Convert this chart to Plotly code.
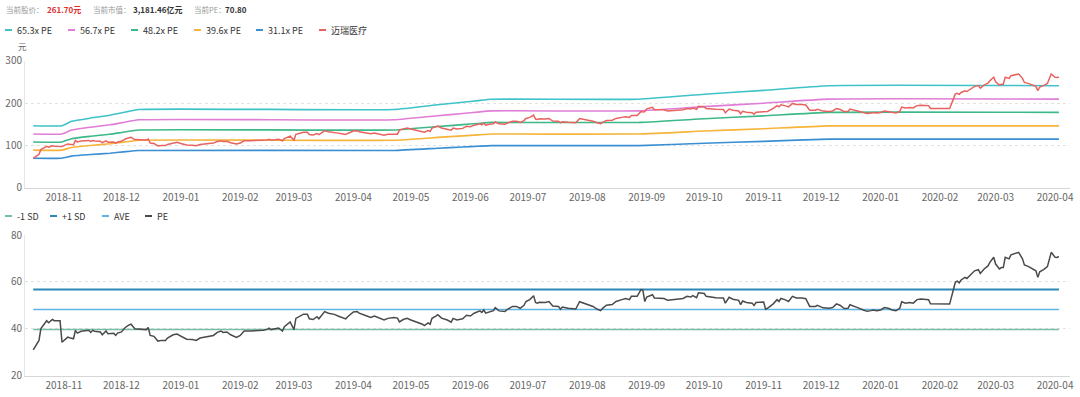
import plotly.graph_objects as go

# ---------------- data ----------------
dates = [
"2018-10-16","2018-10-19","2018-10-20","2018-10-22","2018-10-23","2018-10-24","2018-10-26","2018-10-27","2018-10-30","2018-10-31",
"2018-11-01","2018-11-03","2018-11-04","2018-11-06","2018-11-07","2018-11-08","2018-11-10","2018-11-12","2018-11-14","2018-11-15",
"2018-11-16","2018-11-17","2018-11-20","2018-11-21","2018-11-23","2018-11-24","2018-11-27","2018-11-28","2018-11-29","2018-12-01",
"2018-12-03","2018-12-05","2018-12-06","2018-12-08","2018-12-10","2018-12-12","2018-12-14","2018-12-15","2018-12-16","2018-12-18",
"2018-12-20","2018-12-22","2018-12-24","2018-12-25","2018-12-28","2018-12-30","2019-01-01","2019-01-04","2019-01-07","2019-01-09",
"2019-01-11","2019-01-13","2019-01-15","2019-01-18","2019-01-20","2019-01-22","2019-01-23","2019-01-25","2019-01-27","2019-01-28",
"2019-01-30","2019-02-01","2019-02-03","2019-02-06","2019-02-10","2019-02-13","2019-02-15","2019-02-16","2019-02-17","2019-02-19",
"2019-02-21","2019-02-23","2019-02-24","2019-02-27","2019-02-28","2019-03-01","2019-03-02","2019-03-04","2019-03-06","2019-03-08",
"2019-03-09","2019-03-11","2019-03-13","2019-03-14","2019-03-17","2019-03-19","2019-03-22","2019-03-24","2019-03-26","2019-03-28",
"2019-03-29","2019-04-01","2019-04-03","2019-04-04","2019-04-07","2019-04-10","2019-04-12","2019-04-15","2019-04-17","2019-04-19",
"2019-04-22","2019-04-24","2019-04-25","2019-04-27","2019-04-29","2019-05-01","2019-05-04","2019-05-07","2019-05-08","2019-05-10",
"2019-05-11","2019-05-12","2019-05-14","2019-05-15","2019-05-17","2019-05-20","2019-05-22","2019-05-23","2019-05-25","2019-05-28",
"2019-05-30","2019-06-01","2019-06-03","2019-06-06","2019-06-07","2019-06-08","2019-06-09","2019-06-11","2019-06-13","2019-06-14",
"2019-06-16","2019-06-19","2019-06-20","2019-06-23","2019-06-25","2019-06-27","2019-06-29","2019-06-30","2019-07-02","2019-07-04",
"2019-07-05","2019-07-06","2019-07-07","2019-07-10","2019-07-12","2019-07-14","2019-07-17","2019-07-18","2019-07-19","2019-07-22",
"2019-07-25","2019-07-26","2019-07-28","2019-07-30","2019-08-01","2019-08-02","2019-08-04","2019-08-06","2019-08-08","2019-08-09",
"2019-08-11","2019-08-14","2019-08-16","2019-08-19","2019-08-21","2019-08-23","2019-08-24","2019-08-27","2019-08-28","2019-08-29",
"2019-08-30","2019-08-31","2019-09-01","2019-09-04","2019-09-05","2019-09-07","2019-09-10","2019-09-12","2019-09-15","2019-09-18",
"2019-09-20","2019-09-22","2019-09-24","2019-09-25","2019-09-27","2019-09-28","2019-10-01","2019-10-02","2019-10-04","2019-10-07",
"2019-10-11","2019-10-12","2019-10-14","2019-10-16","2019-10-19","2019-10-20","2019-10-21","2019-10-23","2019-10-26","2019-10-27",
"2019-10-28","2019-10-30","2019-11-01","2019-11-02","2019-11-03","2019-11-06","2019-11-08","2019-11-09","2019-11-10","2019-11-12",
"2019-11-14","2019-11-16","2019-11-18","2019-11-21","2019-11-23","2019-11-25","2019-11-28","2019-11-29","2019-11-30","2019-12-02",
"2019-12-05","2019-12-07","2019-12-09","2019-12-11","2019-12-13","2019-12-15","2019-12-16","2019-12-18","2019-12-20","2019-12-23",
"2019-12-25","2019-12-27","2019-12-28","2019-12-30","2020-01-01","2020-01-03","2020-01-05","2020-01-07","2020-01-09","2020-01-11",
"2020-01-12","2020-01-14","2020-01-16","2020-01-18","2020-01-20","2020-01-22","2020-01-24","2020-01-26","2020-01-27","2020-01-30",
"2020-02-03","2020-02-06","2020-02-08","2020-02-09","2020-02-10","2020-02-11","2020-02-12","2020-02-14","2020-02-15","2020-02-16",
"2020-02-18","2020-02-19","2020-02-21","2020-02-22","2020-02-24","2020-02-26","2020-02-27","2020-02-29","2020-03-01","2020-03-03",
"2020-03-04","2020-03-05","2020-03-06","2020-03-08","2020-03-09","2020-03-12","2020-03-13","2020-03-15","2020-03-16","2020-03-18",
"2020-03-20","2020-03-22","2020-03-23","2020-03-24","2020-03-26","2020-03-28","2020-03-30","2020-03-31","2020-04-01","2020-04-02",
"2020-04-03"]

pe = [
30.9,35.0,40.0,42.2,43.4,42.5,43.9,43.4,43.4,34.2,
35.0,36.4,36.1,35.7,39.3,38.1,38.9,39.0,39.3,38.4,
39.3,38.9,38.6,37.4,39.0,37.8,38.0,37.1,38.1,38.6,
40.5,41.6,41.9,40.0,39.9,39.9,39.6,40.5,37.1,36.7,
34.7,35.0,35.0,36.0,37.4,37.7,36.8,35.5,35.4,35.0,
36.0,36.4,36.6,37.1,38.4,39.0,38.4,38.6,37.4,37.1,
36.3,37.1,39.0,39.0,39.1,39.3,39.7,40.2,39.6,39.9,
40.3,39.0,40.8,42.9,41.5,39.6,44.4,45.2,46.2,46.2,
44.2,43.9,45.1,44.2,47.3,46.6,46.1,45.4,44.8,44.2,
45.1,47.1,47.3,46.6,45.7,44.8,45.4,44.5,43.7,44.4,
44.8,44.5,42.9,43.9,44.4,43.7,42.9,41.9,41.3,42.5,
41.9,44.4,45.4,46.0,44.5,43.7,42.8,44.4,43.7,44.2,
45.7,45.4,46.6,47.6,46.9,48.0,46.6,47.3,47.7,49.0,
47.6,47.3,48.0,49.5,49.5,48.7,50.0,51.6,52.4,54.1,
51.2,50.9,51.3,51.2,51.6,49.7,49.5,48.3,49.2,48.7,
48.7,48.4,51.5,50.9,50.5,49.9,49.5,48.4,47.7,48.7,
50.0,50.3,51.6,52.4,52.9,52.4,53.8,53.8,55.5,56.7,
56.4,51.6,53.5,54.5,53.1,52.9,52.9,52.1,52.4,52.7,
52.9,53.8,53.5,54.1,53.2,55.3,55.0,53.8,53.5,53.2,
53.1,50.9,53.4,52.6,52.1,50.2,51.8,51.2,50.9,49.9,
51.2,51.3,51.4,48.3,48.7,50.6,52.4,51.6,52.9,52.4,
51.6,53.8,53.1,53.1,52.8,49.5,49.5,50.0,49.7,48.9,
48.7,49.0,50.6,49.9,48.6,48.7,50.2,49.7,49.0,48.0,
47.4,47.7,48.0,47.7,48.0,49.0,48.7,48.0,47.7,48.7,
51.5,50.9,51.2,50.9,52.4,52.7,52.7,52.4,50.6,50.5,
50.5,50.5,56.7,59.9,60.3,59.6,60.8,61.9,61.4,62.2,
64.0,64.7,65.2,63.6,65.5,66.8,68.3,70.5,67.6,65.5,
66.1,66.1,70.5,69.8,71.5,72.4,72.6,69.8,67.2,66.6,
65.5,64.7,61.9,64.3,65.2,66.5,72.6,71.3,70.5,70.4,
70.8]

price = [
69.5,78.8,90.0,95.0,97.7,95.6,98.8,97.7,97.7,97.1,
99.4,103.4,102.5,101.4,111.6,108.2,110.5,110.8,111.6,109.1,
111.6,110.5,109.6,106.2,110.8,107.4,107.9,105.4,108.2,109.6,
115.0,118.1,119.0,113.6,113.3,113.3,112.5,115.0,105.4,104.2,
98.5,99.4,99.4,102.2,106.2,107.1,104.5,100.8,100.5,99.4,
102.2,103.4,103.9,105.4,109.1,110.8,109.1,109.6,106.2,105.4,
103.1,105.4,110.8,110.8,111.0,111.6,112.7,114.2,112.5,113.3,
114.5,110.8,115.9,121.8,117.9,112.5,126.1,128.4,131.2,131.2,
125.5,124.7,128.1,125.5,134.3,132.3,130.9,128.9,127.2,125.5,
128.1,133.8,134.3,132.3,129.8,127.2,128.9,126.4,124.1,126.1,
127.2,126.4,136.0,139.2,140.7,138.5,136.0,132.8,130.9,134.7,
132.8,140.7,143.9,145.8,141.1,138.5,135.7,140.7,138.5,140.1,
144.9,143.9,147.7,150.9,148.7,152.2,147.7,149.9,151.2,155.3,
150.9,149.9,152.2,156.9,156.9,154.4,158.5,163.6,166.1,171.5,
162.3,161.4,162.6,162.3,163.6,157.5,156.9,153.1,156.0,154.4,
154.4,153.4,163.3,161.4,160.1,158.2,156.9,153.4,151.2,154.4,
158.5,159.5,163.6,166.1,167.7,166.1,170.5,170.5,175.9,179.7,
178.8,179.6,186.2,189.7,184.8,184.1,184.1,181.3,182.4,183.4,
184.1,187.2,186.2,188.3,185.1,192.4,191.4,187.2,186.2,185.1,
184.8,177.1,185.8,183.0,181.3,174.7,180.3,178.2,177.1,173.7,
178.2,178.5,178.9,178.7,180.2,187.2,193.9,190.9,195.7,193.9,
190.9,199.1,196.5,196.5,195.4,183.2,183.2,185.0,183.9,180.9,
180.2,181.3,187.2,184.6,179.8,180.2,185.7,183.9,181.3,177.6,
175.4,176.5,177.6,176.5,177.6,181.3,180.2,177.6,176.5,180.2,
190.6,188.3,189.4,188.3,193.9,195.0,195.0,193.9,187.2,186.9,
186.9,186.9,209.8,221.6,223.1,220.5,225.0,229.0,227.2,230.1,
236.8,239.4,241.2,235.3,242.4,247.2,252.7,260.9,250.1,242.4,
244.6,244.6,260.9,258.3,264.6,267.9,268.6,258.3,248.6,246.4,
242.4,239.4,229.0,237.9,241.2,246.1,268.6,263.8,260.9,260.5,
261.7]

band_dates = ["2018-10-16","2018-10-31","2018-11-05","2018-11-15","2018-11-25","2018-12-02","2018-12-10",
              "2019-04-22","2019-05-15","2019-05-28","2019-06-05","2019-06-12","2019-08-28","2019-10-01",
              "2019-11-01","2019-12-05","2020-04-03"]
band_653 = [146.3,146.3,156.7,164.6,171.1,177.6,184.8,184.8,195.9,201.8,205.7,209.0,209.0,220.7,229.9,241.0,241.0]
band_567 = [127.0,127.0,136.1,142.9,148.6,154.2,160.5,160.5,170.1,175.2,178.6,181.4,181.4,191.6,199.6,209.2,209.2]
band_482 = [108.0,108.0,115.7,121.5,126.3,131.1,136.4,136.4,144.6,148.9,151.8,154.2,154.2,162.9,169.7,177.9,177.9]
band_396 = [88.7,88.7,95.0,99.8,103.8,107.7,112.1,112.1,118.8,122.4,124.7,126.7,126.7,133.8,139.4,146.1,146.1]
band_311 = [69.7,69.7,74.6,78.4,81.5,84.6,88.0,88.0,93.3,96.1,98.0,99.5,99.5,105.1,109.5,114.8,114.8]

sd_dates = ["2018-10-16", "2020-04-03"]
minus_sd = [39.6, 39.6]
plus_sd = [56.7, 56.7]
ave_pe = [48.2, 48.2]

top_names = ["65.3x PE", "56.7x PE", "48.2x PE", "39.6x PE", "31.1x PE", "迈瑞医疗"]
bot_names = ["-1 SD", "+1 SD", "AVE", "PE"]

# ---------------- styling ----------------
C_653, C_567, C_482, C_396, C_311, C_PRICE = "#3fc3c8", "#e07dd6", "#3db889", "#f6b43a", "#3a8fd3", "#e8625f"
C_MSD, C_PSD, C_AVE, C_PE = "#78bda6", "#2c88b6", "#5db5e2", "#4a4a4a"
FONT = "Noto Sans CJK SC"
W, H = 1080, 397
X0, X1 = 25, 1070

fig = go.Figure()
for vals, col, nm in [(band_653, C_653, top_names[0]), (band_567, C_567, top_names[1]),
                      (band_482, C_482, top_names[2]), (band_396, C_396, top_names[3]),
                      (band_311, C_311, top_names[4])]:
    fig.add_trace(go.Scatter(x=band_dates, y=vals, mode="lines", name=nm,
                             line=dict(color=col, width=1.6, shape="spline", smoothing=0.4),
                             xaxis="x", yaxis="y", hoverinfo="skip"))
fig.add_trace(go.Scatter(x=dates, y=price, mode="lines", name=top_names[5],
                         line=dict(color=C_PRICE, width=1.5), xaxis="x", yaxis="y", hoverinfo="skip"))

for vals, col, nm, wd in [(minus_sd, C_MSD, bot_names[0], 1.5), (plus_sd, C_PSD, bot_names[1], 2),
                          (ave_pe, C_AVE, bot_names[2], 1.5)]:
    fig.add_trace(go.Scatter(x=sd_dates, y=vals, mode="lines", name=nm,
                             line=dict(color=col, width=wd), xaxis="x2", yaxis="y2", hoverinfo="skip"))
fig.add_trace(go.Scatter(x=dates, y=pe, mode="lines", name=bot_names[3],
                         line=dict(color=C_PE, width=1.5), xaxis="x2", yaxis="y2", hoverinfo="skip"))

xrange = ["2018-10-11 17:00", "2020-04-08 19:00"]
xcommon = dict(type="date", range=xrange, dtick="M1", tickformat="%Y-%m", tick0="2018-11-01",
               showgrid=False, zeroline=False, showline=True, linecolor="#d6d6d6", linewidth=1,
               ticks="", automargin=False, tickfont=dict(family=FONT, size=10, color="#666"))
ycommon = dict(showgrid=True, gridcolor="#e2e2e2", griddash="dot", gridwidth=1, zeroline=False,
               showline=True, linecolor="#e6e6e6", ticks="", automargin=False,
               tickfont=dict(family=FONT, size=10, color="#666"))

fig.update_layout(
    width=W, height=H, margin=dict(l=0, r=0, t=0, b=0, autoexpand=False),
    paper_bgcolor="white", plot_bgcolor="white", showlegend=False,
    xaxis=dict(domain=[X0 / W, X1 / W], anchor="y", **xcommon),
    yaxis=dict(domain=[1 - 187.7 / H, 1 - 60.7 / H], anchor="x", range=[0, 300], dtick=100, **ycommon),
    xaxis2=dict(domain=[X0 / W, X1 / W], anchor="y2", **xcommon),
    yaxis2=dict(domain=[1 - 375.5 / H, 1 - 235 / H], anchor="x2", range=[20, 80], dtick=20, **ycommon),
)

ann = []
shapes = []
def text(x, y, s, size=9, color="#333", bold=False):
    ann.append(dict(x=x / W, y=1 - y / H, xref="paper", yref="paper", xanchor="left", yanchor="middle",
                    text=("<b>%s</b>" % s) if bold else s, showarrow=False,
                    font=dict(family=FONT, size=size, color=color)))

# header
text(4, 9, "当前股价：", 7.5, "#999")
text(45, 9, "261.70元", 8, "#e02f2f", True)
text(91, 9, "当前市值：", 7.5, "#999")
text(131, 9, "3,181.46亿元", 8, "#333", True)
text(192, 9, "当前PE：", 7.5, "#999")
text(223, 9, "70.80", 8, "#333", True)

# top legend
top_cols = [C_653, C_567, C_482, C_396, C_311, C_PRICE]
top_x = [5, 68, 131, 194, 256, 319]
for nm, col, xs in zip(top_names, top_cols, top_x):
    shapes.append(dict(type="line", xref="paper", yref="paper", x0=xs / W, x1=(xs + 7) / W,
                       y0=1 - 30 / H, y1=1 - 30 / H, line=dict(color=col, width=2)))
    text(xs + 10, 30, nm, 9, "#333")

# bottom legend
bot_cols = [C_MSD, C_PSD, C_AVE, C_PE]
bot_x = [5, 50, 102, 145]
for nm, col, xs in zip(bot_names, bot_cols, bot_x):
    shapes.append(dict(type="line", xref="paper", yref="paper", x0=xs / W, x1=(xs + 7) / W,
                       y0=1 - 216 / H, y1=1 - 216 / H, line=dict(color=col, width=2)))
    text(xs + 10, 216, nm, 9, "#333")

# unit label
text(16, 46, "元", 8.5, "#666")

fig.update_layout(annotations=ann, shapes=shapes)
fig.write_html("out.html", config={"displayModeBar": False, "staticPlot": True},
               post_script="document.body.style.margin='0';document.body.style.overflow='hidden';")
